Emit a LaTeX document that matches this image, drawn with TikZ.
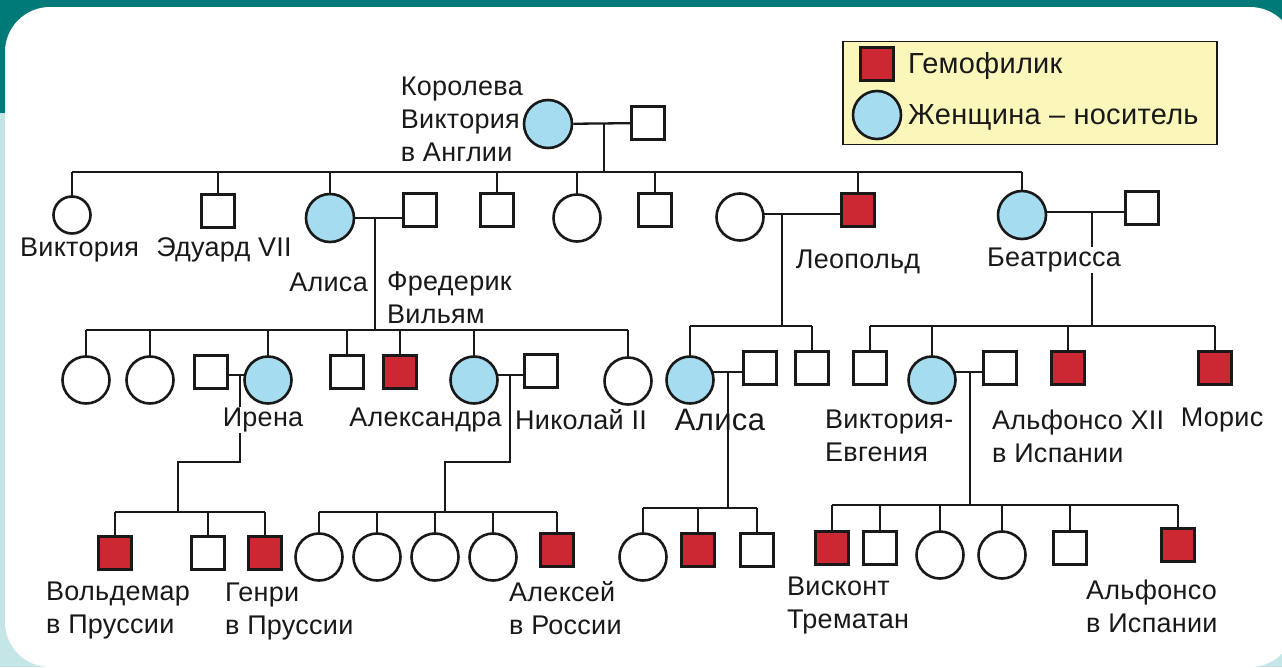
\documentclass[tikz,border=0pt]{standalone}
\usepackage{fontspec}
\setmainfont{Liberation Sans}[LetterSpace=1]
\definecolor{tealbg}{RGB}{0,122,120}
\definecolor{cyanbg}{RGB}{196,230,230}
\definecolor{hemo}{RGB}{204,40,52}
\definecolor{carrier}{RGB}{166,220,240}
\definecolor{legendbg}{RGB}{251,247,186}
\definecolor{ink}{RGB}{25,25,25}
\pgfdeclarelayer{cardlayer}
\pgfdeclarelayer{linelayer}
\pgfsetlayers{cardlayer,linelayer,main}
\begin{document}
\begin{tikzpicture}[x=1pt,y=-1pt,
  sq/.style={draw=ink, line width=2.6pt, minimum size=33pt, inner sep=0pt, fill=white},
  hsq/.style={sq, fill=hemo},
  fc/.style={circle, draw=ink, line width=2.6pt, minimum size=47pt, inner sep=0pt, fill=white},
  cc/.style={fc, fill=carrier},
  ln/.style={line width=2.3pt, draw=ink},
  lbl/.style={font=\fontsize{27}{33}\selectfont, inner sep=1pt, text=ink},
  lblw/.style={lbl, fill=white},
  leglbl/.style={lbl, font=\fontsize{29}{33}\selectfont, anchor=west},
  ml/.style={lbl, align=left, anchor=west}]
\useasboundingbox (0,0) rectangle (1282,667);
\begin{pgfonlayer}{cardlayer}
\clip (0,0) rectangle (1282,667);
\fill[cyanbg] (0,0) rectangle (1282,667);
\fill[tealbg] (0,0) rectangle (1282,113);
\fill[white, rounded corners=45pt] (5,7) rectangle (1295,667);
\end{pgfonlayer}

% legend
\node[draw=ink, line width=1.2pt, fill=legendbg, minimum width=374pt, minimum height=103pt, inner sep=0pt] (leg) at (1030,93) {};
\node[hsq] (legh) at (877,64) {};
\node[leglbl] (leght) at (907,66) {Гемофилик};
\node[cc, minimum size=48pt] (legc) at (877,115) {};
\node[leglbl] (legct) at (907,117) {Женщина – носитель};

% generation 1
\node[cc, minimum size=48pt] (qv) at (548,124) {};
\node[sq] (qh) at (648,123) {};
\node[lbl, align=left, anchor=east] (qvl) at (524,119) {Королева\\Виктория\\в Англии};
\coordinate (m0) at (604,123);
\coordinate (b1) at (604,172);

% generation 2
\node[fc, minimum size=37pt] (vic) at (72,215) {};
\node[sq] (edw) at (218,211) {};
\node[cc, minimum size=48pt] (alice) at (330,218) {};
\node[sq] (fred) at (420,210) {};
\node[sq] (s5) at (497,210) {};
\node[fc] (c6) at (577,218) {};
\node[sq] (s7) at (655,210) {};
\node[fc] (leow) at (740,217) {};
\node[hsq] (leo) at (858,210) {};
\node[cc, minimum size=48pt] (bea) at (1022,215) {};
\node[sq] (beah) at (1142,208) {};
\coordinate (m1) at (375,217);
\coordinate (m2) at (782,214);
\coordinate (m3) at (1092,212);
\coordinate (b2) at (375,330);
\coordinate (b3) at (782,326);
\coordinate (b3b) at (1092,326);

\node[lbl, anchor=west] (vicl) at (19,250) {Виктория};
\node[lbl] (edwl) at (224,250) {Эдуард VII};
\node[lbl, anchor=east] (alicel) at (369,282) {Алиса};
\node[ml] (fredl) at (386,298) {Фредерик\\Вильям};
\node[lbl] (leol) at (858,262) {Леопольд};
\node[lblw] (beal) at (1054,260) {Беатрисса};

% generation 3
\node[fc] (c31) at (86,380) {};
\node[fc] (c32) at (150,380) {};
\node[sq] (ih) at (211,372) {};
\node[cc] (iren) at (268,380) {};
\node[sq] (s34) at (347,372) {};
\node[hsq] (h35) at (400,372) {};
\node[cc] (alex) at (474,380) {};
\node[sq] (nik) at (541,371) {};
\node[fc] (c37) at (628,381) {};
\node[cc] (alisa) at (690,380) {};
\node[sq] (ah) at (760,368) {};
\node[sq] (s3b) at (812,368) {};
\node[sq] (s3c) at (870,368) {};
\node[cc] (ve) at (932,380) {};
\node[sq] (veh) at (1000,368) {};
\node[hsq] (alf) at (1068,368) {};
\node[hsq] (mor) at (1215,368) {};

\coordinate (m4) at (240,375);
\coordinate (k4) at (240,462);
\coordinate (j4) at (178,462);
\coordinate (b4) at (178,512);
\coordinate (m5) at (510,375);
\coordinate (k5) at (510,462);
\coordinate (j5) at (445,462);
\coordinate (b5) at (445,512);
\coordinate (m6) at (728,372);
\coordinate (b6) at (728,508);
\coordinate (m7) at (970,372);
\coordinate (b7) at (970,505);

\node[lblw] (irenl) at (263,420) {Ирена};
\node[lbl, anchor=east] (alexl) at (503,420) {Александра};
\node[lbl, anchor=west] (nikl) at (514,420) {Николай II};
\node[lbl, font=\fontsize{31}{33}\selectfont] (alisal) at (720,420) {Алиса};
\node[ml] (vel) at (824,436) {Виктория-\\Евгения};
\node[ml] (alfl) at (991,436) {Альфонсо XII\\в Испании};
\node[lbl] (morl) at (1222,420) {Морис};

% generation 4
\node[hsq] (wol) at (115,553) {};
\node[sq] (s4b) at (208,553) {};
\node[hsq] (gen) at (265,553) {};
\node[fc] (d1) at (319,557) {};
\node[fc] (d2) at (377,557) {};
\node[fc] (d3) at (435,557) {};
\node[fc] (d4) at (493,557) {};
\node[hsq] (alexei) at (557,550) {};
\node[fc] (c4a) at (643,557) {};
\node[hsq] (h4a) at (698,550) {};
\node[sq] (s4c) at (757,550) {};
\node[hsq] (vis) at (832,548) {};
\node[sq] (s4d) at (880,548) {};
\node[fc] (c4b) at (940,555) {};
\node[fc] (c4c) at (1002,555) {};
\node[sq] (s4e) at (1070,548) {};
\node[hsq] (alf2) at (1178,545) {};

\node[ml] (woll) at (45,611) {Вольдемар\\в Пруссии};
\node[ml] (genl) at (224,611) {Генри\\в Пруссии};
\node[ml] (alexeil) at (508,608) {Алексей\\в России};
\node[ml] (visl) at (786,606) {Висконт\\Трематан};
\node[ml] (alf2l) at (1085,606) {Альфонсо\\в Испании};

% connectors
\begin{pgfonlayer}{linelayer}
\draw[ln] (qv) -- (qh);
\draw[ln] (m0) -- (b1);
\draw[ln] (vic.center |- b1) -- (bea.center |- b1);
\foreach \n in {vic,edw,alice,s5,c6,s7,leo,bea} \draw[ln] (\n.center) -- (\n.center |- b1);
\draw[ln] (alice.center) -- (alice.center -| fred.center);
\draw[ln] (leow.center |- m2) -- (leo.center |- m2);
\draw[ln] (bea.center |- m3) -- (beah.center |- m3);
\draw[ln] (m1) -- (b2);
\draw[ln] (m2) -- (b3);
\draw[ln] (m3) -- (b3b);
% gen 3 bars
\draw[ln] (c31.center |- b2) -- (c37.center |- b2);
\foreach \n in {c31,c32,iren,s34,h35,alex,c37} \draw[ln] (\n.center) -- (\n.center |- b2);
\draw[ln] (alisa.center |- b3) -- (s3b.center |- b3);
\foreach \n in {alisa,s3b} \draw[ln] (\n.center) -- (\n.center |- b3);
\draw[ln] (s3c.center |- b3b) -- (mor.center |- b3b);
\foreach \n in {s3c,ve,alf,mor} \draw[ln] (\n.center) -- (\n.center |- b3b);
% gen 3 marriages
\draw[ln] (ih.center |- m4) -- (iren.center |- m4);
\draw[ln] (alex.center |- m5) -- (nik.center |- m5);
\draw[ln] (alisa.center |- m6) -- (ah.center |- m6);
\draw[ln] (ve.center |- m7) -- (veh.center |- m7);
\draw[ln] (m4) -- (k4) -- (j4) -- (b4);
\draw[ln] (m5) -- (k5) -- (j5) -- (b5);
\draw[ln] (m6) -- (b6);
\draw[ln] (m7) -- (b7);
% gen 4 bars
\draw[ln] (wol.center |- b4) -- (gen.center |- b4);
\foreach \n in {wol,s4b,gen} \draw[ln] (\n.center) -- (\n.center |- b4);
\draw[ln] (d1.center |- b5) -- (alexei.center |- b5);
\foreach \n in {d1,d2,d3,d4,alexei} \draw[ln] (\n.center) -- (\n.center |- b5);
\draw[ln] (c4a.center |- b6) -- (s4c.center |- b6);
\foreach \n in {c4a,h4a,s4c} \draw[ln] (\n.center) -- (\n.center |- b6);
\draw[ln] (vis.center |- b7) -- (alf2.center |- b7);
\foreach \n in {vis,s4d,c4b,c4c,s4e,alf2} \draw[ln] (\n.center) -- (\n.center |- b7);
\end{pgfonlayer}
\end{tikzpicture}
\end{document}
